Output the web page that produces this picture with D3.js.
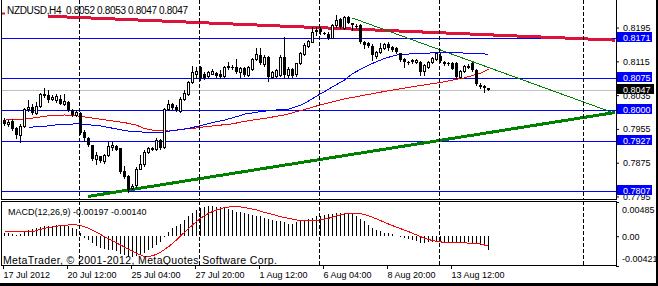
<!DOCTYPE html>
<html>
<head>
<meta charset="utf-8">
<script src="https://cdn.jsdelivr.net/npm/d3@7"></script>
<style>
  html, body { margin: 0; padding: 0; background: #fff; }
  svg { display: block; font-family: "Liberation Sans", Arial, sans-serif; }
</style>
</head>
<body>
<svg id="chart"></svg>
<script>
"use strict";

// NZDUSD H4 bars (bar 0 = first visible bar)
const opens = [
  0.7976, 0.7967, 0.7974, 0.7956, 0.7940, 0.7963, 0.8001, 0.8006, 0.7993, 0.8010,
  0.8037, 0.8035, 0.8026, 0.8023, 0.8027, 0.8013, 0.8019, 0.8000, 0.7988, 0.7993,
  0.7948, 0.7934, 0.7917, 0.7884, 0.7890, 0.7879, 0.7893, 0.7912, 0.7914, 0.7909,
  0.7856, 0.7844, 0.7814, 0.7822, 0.7861, 0.7871, 0.7901, 0.7907, 0.7907, 0.7929,
  0.7913, 0.8002, 0.8013, 0.8008, 0.7997, 0.8026, 0.8037, 0.8067, 0.8086, 0.8102,
  0.8084, 0.8081, 0.8086, 0.8088, 0.8086, 0.8080, 0.8101, 0.8102, 0.8102, 0.8090,
  0.8100, 0.8083, 0.8097, 0.8121, 0.8130, 0.8108, 0.8126, 0.8079, 0.8081, 0.8083,
  0.8126, 0.8083, 0.8096, 0.8084, 0.8110, 0.8132, 0.8152, 0.8162, 0.8187, 0.8192,
  0.8183, 0.8181, 0.8171, 0.8200, 0.8215, 0.8193, 0.8219, 0.8205, 0.8199, 0.8201,
  0.8162, 0.8159, 0.8152, 0.8128, 0.8138, 0.8146, 0.8156, 0.8150, 0.8147, 0.8134,
  0.8120, 0.8113, 0.8118, 0.8114, 0.8114, 0.8092, 0.8102, 0.8113, 0.8121, 0.8128,
  0.8114, 0.8110, 0.8110, 0.8110, 0.8079, 0.8092, 0.8102, 0.8110, 0.8094, 0.8060,
  0.8056, 0.8052
];
const highs = [
  0.7980, 0.7976, 0.7978, 0.7960, 0.7966, 0.8005, 0.8023, 0.8015, 0.8019, 0.8039,
  0.8053, 0.8047, 0.8035, 0.8037, 0.8035, 0.8037, 0.8022, 0.8002, 0.7999, 0.7994,
  0.7952, 0.7936, 0.7918, 0.7901, 0.7891, 0.7896, 0.7923, 0.7923, 0.7917, 0.7910,
  0.7868, 0.7847, 0.7824, 0.7865, 0.7893, 0.7904, 0.7913, 0.7912, 0.7933, 0.7931,
  0.8005, 0.8023, 0.8016, 0.8012, 0.8030, 0.8047, 0.8068, 0.8105, 0.8102, 0.8104,
  0.8090, 0.8092, 0.8098, 0.8090, 0.8094, 0.8105, 0.8114, 0.8106, 0.8121, 0.8102,
  0.8102, 0.8105, 0.8124, 0.8146, 0.8146, 0.8130, 0.8128, 0.8092, 0.8098, 0.8130,
  0.8172, 0.8102, 0.8100, 0.8112, 0.8138, 0.8158, 0.8166, 0.8197, 0.8197, 0.8197,
  0.8185, 0.8184, 0.8203, 0.8225, 0.8217, 0.8222, 0.8223, 0.8207, 0.8203, 0.8203,
  0.8164, 0.8162, 0.8155, 0.8140, 0.8158, 0.8158, 0.8162, 0.8152, 0.8150, 0.8136,
  0.8122, 0.8116, 0.8121, 0.8121, 0.8117, 0.8109, 0.8116, 0.8126, 0.8136, 0.8134,
  0.8117, 0.8113, 0.8113, 0.8113, 0.8094, 0.8106, 0.8108, 0.8113, 0.8097, 0.8063,
  0.8059, 0.8053
];
const lows = [
  0.7964, 0.7963, 0.7952, 0.7934, 0.7925, 0.7960, 0.7997, 0.7991, 0.7991, 0.8008,
  0.8031, 0.8019, 0.8023, 0.8018, 0.8013, 0.8012, 0.7997, 0.7985, 0.7985, 0.7944,
  0.7926, 0.7914, 0.7881, 0.7873, 0.7876, 0.7875, 0.7891, 0.7906, 0.7904, 0.7851,
  0.7839, 0.7805, 0.7812, 0.7818, 0.7859, 0.7868, 0.7899, 0.7904, 0.7904, 0.7907,
  0.7910, 0.8000, 0.8002, 0.7997, 0.7996, 0.8023, 0.8035, 0.8064, 0.8075, 0.8072,
  0.8074, 0.8079, 0.8085, 0.8079, 0.8076, 0.8079, 0.8098, 0.8098, 0.8088, 0.8079,
  0.8080, 0.8080, 0.8094, 0.8118, 0.8108, 0.8105, 0.8068, 0.8076, 0.8079, 0.8080,
  0.8076, 0.8078, 0.8079, 0.8081, 0.8108, 0.8130, 0.8150, 0.8160, 0.8177, 0.8181,
  0.8179, 0.8167, 0.8170, 0.8197, 0.8195, 0.8192, 0.8205, 0.8189, 0.8195, 0.8158,
  0.8146, 0.8150, 0.8118, 0.8122, 0.8136, 0.8144, 0.8143, 0.8139, 0.8136, 0.8116,
  0.8102, 0.8108, 0.8110, 0.8112, 0.8083, 0.8083, 0.8100, 0.8110, 0.8118, 0.8113,
  0.8106, 0.8106, 0.8096, 0.8076, 0.8076, 0.8090, 0.8100, 0.8092, 0.8059, 0.8053,
  0.8042, 0.8047
];
const closes = [
  0.7967, 0.7972, 0.7955, 0.7940, 0.7963, 0.8001, 0.8008, 0.7993, 0.8009, 0.8037,
  0.8034, 0.8023, 0.8031, 0.8034, 0.8015, 0.8021, 0.8000, 0.7988, 0.7996, 0.7946,
  0.7933, 0.7917, 0.7884, 0.7893, 0.7879, 0.7893, 0.7915, 0.7917, 0.7906, 0.7854,
  0.7842, 0.7810, 0.7820, 0.7861, 0.7871, 0.7901, 0.7909, 0.7909, 0.7929, 0.7909,
  0.8002, 0.8014, 0.8005, 0.8000, 0.8027, 0.8039, 0.8065, 0.8090, 0.8092, 0.8075,
  0.8076, 0.8089, 0.8092, 0.8081, 0.8079, 0.8102, 0.8105, 0.8100, 0.8090, 0.8100,
  0.8083, 0.8102, 0.8121, 0.8132, 0.8110, 0.8126, 0.8079, 0.8090, 0.8094, 0.8126,
  0.8083, 0.8098, 0.8081, 0.8110, 0.8134, 0.8154, 0.8163, 0.8184, 0.8189, 0.8184,
  0.8181, 0.8170, 0.8200, 0.8213, 0.8197, 0.8219, 0.8207, 0.8200, 0.8197, 0.8160,
  0.8154, 0.8152, 0.8130, 0.8138, 0.8147, 0.8155, 0.8146, 0.8142, 0.8138, 0.8118,
  0.8113, 0.8110, 0.8113, 0.8118, 0.8090, 0.8106, 0.8113, 0.8124, 0.8134, 0.8116,
  0.8108, 0.8108, 0.8098, 0.8079, 0.8092, 0.8104, 0.8104, 0.8094, 0.8061, 0.8055,
  0.8053, 0.8047
];

// moving averages: [bar, value] vertices
const maRed = [
  [0, 0.7976], [5, 0.7978], [8, 0.7982], [10, 0.7985], [12, 0.7987], [15, 0.7988],
  [17, 0.7987], [19, 0.7985], [21, 0.7982], [24, 0.7978], [27, 0.7974], [30, 0.7970],
  [33, 0.7964], [35, 0.7956], [37, 0.7952], [39, 0.7951], [41, 0.7950], [43, 0.7952],
  [45, 0.7955], [47, 0.7956], [49, 0.7959], [51, 0.7961], [53, 0.7963], [55, 0.7965],
  [57, 0.7967], [60, 0.7973], [65, 0.7980], [70, 0.7988], [75, 0.8001], [79, 0.8012],
  [85, 0.8026], [94, 0.8042], [102, 0.8055], [109, 0.8065], [115, 0.8076], [119, 0.8087],
  [121, 0.8096]
];
const maBlue = [
  [6, 0.7959], [10, 0.7961], [14, 0.7966], [19, 0.7967], [24, 0.7962], [28, 0.7955],
  [32, 0.7948], [39, 0.7947], [42, 0.7951], [46, 0.7956], [49, 0.7963], [52, 0.7970],
  [55, 0.7976], [58, 0.7984], [60, 0.7990], [64, 0.7996], [68, 0.8000], [71, 0.8002],
  [74, 0.8011], [76, 0.8021], [79, 0.8038], [81, 0.8049], [85, 0.8071], [87, 0.8086],
  [91, 0.8106], [95, 0.8122], [98, 0.8130], [103, 0.8134], [111, 0.8136], [117, 0.8134],
  [121, 0.8132]
];

// MACD(12,26,9): main histogram per bar, signal as [bar, value] vertices
const macdMain = [
  0.0005, 0.0004, 0.0003, 0.0002, 0.0003, 0.0007, 0.0009, 0.0010, 0.0012, 0.0013,
  0.0014, 0.0015, 0.0015, 0.0016, 0.0016, 0.0015, 0.0014, 0.0012, 0.0010, 0.0004,
  -0.0002, -0.0005, -0.0010, -0.0014, -0.0017, -0.0018, -0.0019, -0.0020, -0.0021, -0.0025,
  -0.0027, -0.0029, -0.0029, -0.0028, -0.0026, -0.0023, -0.0020, -0.0016, -0.0012, -0.0008,
  -0.0001, 0.0006, 0.0011, 0.0014, 0.0018, 0.0023, 0.0028, 0.0033, 0.0037, 0.0040,
  0.0042, 0.0043, 0.0043, 0.0042, 0.0041, 0.0041, 0.0039, 0.0037, 0.0035, 0.0034,
  0.0033, 0.0031, 0.0030, 0.0029, 0.0028, 0.0026, 0.0024, 0.0023, 0.0022, 0.0021,
  0.0020, 0.0018, 0.0018, 0.0020, 0.0021, 0.0023, 0.0025, 0.0026, 0.0028, 0.0029,
  0.0030, 0.0031, 0.0032, 0.0033, 0.0033, 0.0033, 0.0033, 0.0032, 0.0029, 0.0025,
  0.0021, 0.0016, 0.0011, 0.0009, 0.0007, 0.0005, 0.0004, 0.0003, 0.0001, -0.0001,
  -0.0002, -0.0004, -0.0005, -0.0007, -0.0009, -0.0009, -0.0008, -0.0008, -0.0007, -0.0007,
  -0.0008, -0.0009, -0.0009, -0.0009, -0.0009, -0.0008, -0.0008, -0.0009, -0.0009, -0.0012,
  -0.0013, -0.00197
];
const macdSignal = [
  [0, 0.00066], [7, 0.00066], [10, 0.00113], [14, 0.00150], [17, 0.00165], [19, 0.00155],
  [21, 0.00113], [23, 0.00056], [25, -0.00005], [27, -0.00066], [29, -0.00123], [31, -0.00184],
  [33, -0.00241], [35, -0.00288], [37, -0.00278], [39, -0.00227], [41, -0.00148], [43, -0.00052],
  [45, 0.00056], [47, 0.00160], [49, 0.00254], [51, 0.00325], [53, 0.00372], [55, 0.00405],
  [57, 0.00420], [59, 0.00415], [61, 0.00396], [63, 0.00372], [65, 0.00339], [67, 0.00311],
  [69, 0.00278], [71, 0.00254], [73, 0.00231], [75, 0.00222], [77, 0.00222], [79, 0.00231],
  [81, 0.00254], [83, 0.00288], [85, 0.00316], [87, 0.00325], [89, 0.00320], [91, 0.00292],
  [93, 0.00245], [95, 0.00198], [97, 0.00150], [99, 0.00108], [101, 0.00066], [103, 0.00019],
  [105, -0.00028], [107, -0.00061], [109, -0.00080], [111, -0.00090], [113, -0.00094],
  [115, -0.00094], [117, -0.00099], [119, -0.00108], [121, -0.00140]
];

// horizontal levels and trend lines ([bar, price] anchors, rays to the right)
const levels = [0.8171, 0.8075, 0.8000, 0.7927, 0.7807];
const bid = 0.8047;
const trendCrimson = [[11, 0.8222], [121, 0.8178]];
const trendSupport = [[21, 0.7795], [121, 0.7946]];
const trendResist = [[87, 0.8218], [121, 0.8101]];

const priceTicks = [0.8195, 0.8115, 0.8035, 0.7955, 0.7875, 0.7795];
const macdTicks = [0.00485, 0, -0.00421];
const timeLabels = ["17 Jul 2012", "20 Jul 12:00", "25 Jul 04:00", "27 Jul 20:00",
  "1 Aug 12:00", "6 Aug 04:00", "8 Aug 20:00", "13 Aug 12:00"];
const timeLabelBars = [0, 16, 32, 48, 64, 80, 96, 112];
const gridBars = [18.75, 48.75, 78.75, 108.75, 144.75];

const W = 658, H = 286;
const right = 616;
const mainBottom = 199, macdTop = 201, macdBottom = 265;

const svg = d3.select('#chart').attr('width', W).attr('height', H);
svg.append('rect').attr('width', W).attr('height', H).attr('fill', '#fff');

const x = d3.scaleLinear().domain([0, 121]).range([4, 488]);
const y = d3.scaleLinear().domain([0.7789, 0.8258]).range([199, 1]);
const ym = d3.scaleLinear().domain([-0.00421, 0.00485]).range([266, 202]);
const lastBar = x.invert(right - 1);

const crisp = v => Math.round(v) + 0.5;

const defs = svg.append('defs');
defs.append('clipPath').attr('id', 'clipMain')
  .append('rect').attr('x', 2).attr('y', 0).attr('width', right - 2).attr('height', mainBottom);
defs.append('clipPath').attr('id', 'clipMacd')
  .append('rect').attr('x', 2).attr('y', macdTop + 1).attr('width', right - 2).attr('height', macdBottom - macdTop - 1);

const main = svg.append('g').attr('clip-path', 'url(#clipMain)');
const macd = svg.append('g').attr('clip-path', 'url(#clipMacd)');

// dashed vertical grid
gridBars.forEach(b => {
  const gx = crisp(x(b));
  [[0, mainBottom], [macdTop, macdBottom]].forEach(([y1, y2]) => {
    svg.append('line')
      .attr('x1', gx).attr('x2', gx).attr('y1', y1).attr('y2', y2)
      .attr('stroke', '#000').attr('stroke-dasharray', '4,2');
  });
});

// levels
main.selectAll('.level').data(levels).enter().append('line')
  .attr('class', 'level')
  .attr('x1', 2).attr('x2', right)
  .attr('y1', d => crisp(y(d))).attr('y2', d => crisp(y(d)))
  .attr('stroke', '#0000ff');
main.append('line')
  .attr('x1', 2).attr('x2', right)
  .attr('y1', crisp(y(bid))).attr('y2', crisp(y(bid)))
  .attr('stroke', '#c0c0c0');

// trend lines
function ray(a, b) {
  const slope = (b[1] - a[1]) / (b[0] - a[0]);
  return [[a[0], a[1]], [lastBar, a[1] + slope * (lastBar - a[0])]];
}
const lineGen = d3.line().x(d => x(d[0])).y(d => y(d[1]));
main.append('path').attr('d', lineGen(ray(...trendCrimson)))
  .attr('fill', 'none').attr('stroke', '#dc143c').attr('stroke-width', 3).attr('shape-rendering', 'crispEdges');
main.append('path').attr('d', lineGen(ray(...trendSupport)))
  .attr('fill', 'none').attr('stroke', '#008000').attr('stroke-width', 3).attr('shape-rendering', 'crispEdges');
main.append('path').attr('d', lineGen(ray(...trendResist)))
  .attr('fill', 'none').attr('stroke', '#008000').attr('stroke-width', 1).attr('shape-rendering', 'crispEdges');

// moving averages
const maLine = d3.line().x(d => x(d[0]) + 0.5).y(d => y(d[1]));
main.append('path').attr('d', maLine(maRed))
  .attr('fill', 'none').attr('stroke', '#ff0000').attr('shape-rendering', 'crispEdges');
main.append('path').attr('d', maLine(maBlue))
  .attr('fill', 'none').attr('stroke', '#0000ff').attr('shape-rendering', 'crispEdges');

// candles
const bars = d3.range(opens.length);
const candle = main.selectAll('.candle').data(bars).enter().append('g')
  .attr('class', 'candle').attr('shape-rendering', 'crispEdges');
candle.append('line')
  .attr('x1', i => x(i) + 0.5).attr('x2', i => x(i) + 0.5)
  .attr('y1', i => Math.round(y(highs[i]))).attr('y2', i => Math.round(y(lows[i])) + 1)
  .attr('stroke', '#000');
candle.append('rect')
  .attr('x', i => closes[i] >= opens[i] ? x(i) - 0.5 : x(i) - 1)
  .attr('width', i => closes[i] >= opens[i] ? 2 : 3)
  .attr('y', i => closes[i] >= opens[i] ? Math.round(y(closes[i])) + 0.5 : Math.round(y(opens[i])))
  .attr('height', i => {
    const h = Math.abs(Math.round(y(opens[i])) - Math.round(y(closes[i])));
    return closes[i] >= opens[i] ? Math.max(h, 0) : Math.max(h, 1);
  })
  .attr('fill', i => closes[i] >= opens[i] ? '#fff' : '#000')
  .attr('stroke', i => closes[i] >= opens[i] ? '#000' : 'none');

// MACD
macd.selectAll('.hist').data(macdMain).enter().append('line')
  .attr('class', 'hist')
  .attr('x1', (d, i) => x(i) + 0.5).attr('x2', (d, i) => x(i) + 0.5)
  .attr('y1', Math.round(ym(0))).attr('y2', d => Math.round(ym(d)))
  .attr('stroke', '#000');
macd.append('path').attr('d', d3.line().x(d => x(d[0]) + 0.5).y(d => ym(d[1]))(macdSignal))
  .attr('fill', 'none').attr('stroke', '#ff0000').attr('shape-rendering', 'crispEdges');

// frames
const frame = svg.append('g').attr('stroke', '#000').attr('shape-rendering', 'crispEdges');
frame.append('line').attr('x1', 1.5).attr('x2', 1.5).attr('y1', 0).attr('y2', mainBottom + 0.5);
frame.append('line').attr('x1', right + 0.5).attr('x2', right + 0.5).attr('y1', 0).attr('y2', mainBottom + 0.5);
frame.append('line').attr('x1', 1).attr('x2', right + 1).attr('y1', mainBottom + 0.5).attr('y2', mainBottom + 0.5);
frame.append('line').attr('x1', 1.5).attr('x2', 1.5).attr('y1', macdTop + 0.5).attr('y2', macdBottom + 0.5);
frame.append('line').attr('x1', right + 0.5).attr('x2', right + 0.5).attr('y1', macdTop + 0.5).attr('y2', macdBottom + 0.5);
frame.append('line').attr('x1', 1).attr('x2', right + 1).attr('y1', macdTop + 0.5).attr('y2', macdTop + 0.5);
frame.append('line').attr('x1', 1).attr('x2', right + 1).attr('y1', macdBottom + 0.5).attr('y2', macdBottom + 0.5);

// price axis
const priceAxis = svg.append('g').attr('transform', `translate(${right},0)`)
  .call(d3.axisRight(y).tickValues(priceTicks).tickSize(3).tickSizeOuter(0).tickPadding(4)
    .tickFormat(d3.format('.4f')));
priceAxis.select('.domain').remove();

const macdAxis = svg.append('g').attr('transform', `translate(${right},0)`)
  .call(d3.axisRight(ym).tickValues(macdTicks).tickSize(3).tickSizeOuter(0).tickPadding(3)
    .tickFormat(d => d === 0 ? '0.00' : d.toFixed(5)));
macdAxis.select('.domain').remove();
macdAxis.selectAll('text').attr('dy', d => d > 0 ? '1.2em' : d < 0 ? '-0.55em' : '0.32em');

const timeAxis = svg.append('g').attr('transform', `translate(0,${macdBottom})`)
  .call(d3.axisBottom(x.copy().range([3, 487])).tickValues(timeLabelBars).tickSize(4)
    .tickSizeOuter(0).tickPadding(3).tickFormat((d, i) => timeLabels[i]));
timeAxis.select('.domain').remove();
timeAxis.selectAll('text').attr('text-anchor', 'start');

[priceAxis, macdAxis, timeAxis].forEach(g => {
  g.attr('font-family', null).attr('font-size', 9);
  g.selectAll('text').attr('fill', '#000');
  g.selectAll('line').attr('stroke', '#000');
});

// price labels on the axis
const tags = svg.append('g').attr('font-size', 9);
levels.forEach(v => {
  const ly = Math.round(y(v));
  tags.append('rect').attr('x', right + 1).attr('y', ly - 6).attr('width', 35).attr('height', 10).attr('fill', '#0000ff');
  tags.append('text').attr('x', right + 7).attr('y', ly + 3).attr('fill', '#fff').text(d3.format('.4f')(v));
});
{
  const ly = Math.round(y(bid));
  tags.append('rect').attr('x', right + 1).attr('y', ly - 6).attr('width', 37).attr('height', 10).attr('fill', '#000');
  tags.append('text').attr('x', right + 7).attr('y', ly + 3).attr('fill', '#fff').text(d3.format('.4f')(bid));
}

// texts
const last = opens.length - 1;
svg.append('text').attr('x', 7).attr('y', 14).attr('font-size', 10)
  .style('white-space', 'pre').attr('textLength', 181)
  .text(`NZDUSD,H4  ${[opens[last], highs[last], lows[last], closes[last]].map(d3.format('.4f')).join(' ')}`);
svg.append('text').attr('x', 8).attr('y', 214.5).attr('font-size', 9)
  .text(`MACD(12,26,9) ${macdMain[last].toFixed(5)} ${macdSignal[macdSignal.length - 1][1].toFixed(5)}`);
svg.append('text').attr('x', 3).attr('y', 264).attr('font-size', 10.5).attr('textLength', 274)
  .text('MetaTrader, \u00a9 2001-2012, MetaQuotes Software Corp.');

// small crimson mark at the top-left corner
svg.append('line').attr('x1', 2).attr('x2', 5).attr('y1', 13.5).attr('y2', 13.5)
  .attr('stroke', '#dc143c').attr('stroke-width', 2);

// window edge
svg.append('rect').attr('x', 656).attr('y', 0).attr('width', 2).attr('height', H).attr('fill', '#000');
svg.append('rect').attr('x', 0).attr('y', 283).attr('width', W).attr('height', 3).attr('fill', '#000');
</script>
</body>
</html>
